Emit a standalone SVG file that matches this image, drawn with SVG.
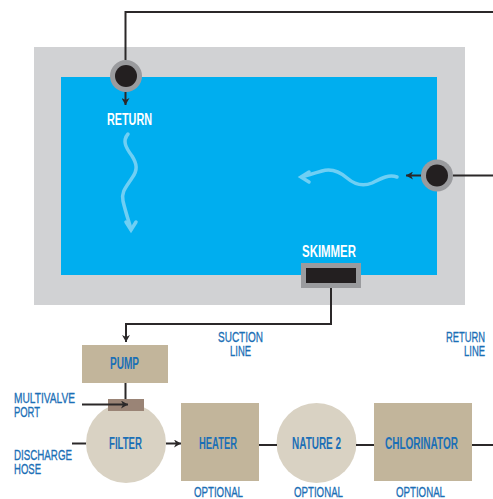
<svg xmlns="http://www.w3.org/2000/svg" width="493" height="499" viewBox="0 0 493 499">
<style>
text{font-family:"Liberation Sans Narrow","Liberation Sans",Arial,sans-serif;font-weight:700;font-size:16px}
.b{fill:#1b6fb6}.l{font-weight:400;font-size:15.500px;stroke:#1b6fb6;stroke-width:.35}.w{fill:#fff}
.c{fill:none;stroke:#2b2829;stroke-width:2}
.s{fill:none;stroke:#6fcff4;stroke-width:3.500;stroke-linecap:round;stroke-linejoin:miter}
.tan{fill:#c2b59b}.lt{fill:#d9d2c3}.ring{fill:#9a9b9e}.dk{fill:#231f20}
</style>
<defs>
<marker id="a" viewBox="0 0 8 8" refX="7" refY="4" markerWidth="8" markerHeight="8" markerUnits="userSpaceOnUse" orient="auto"><path d="M0 0L7 4L0 8L2 4Z" fill="#2b2829"/></marker>
</defs>
<g id="pool"><rect x="34" y="47" width="431" height="258" fill="#d1d2d4"/><rect x="61" y="77" width="376" height="198" fill="#00aeef"/>
<path class="s" d="M128 134C122 141 126 148 132 156C137 164 138 170 132 178C126 187 121 192 123 201C125 210 128 219 131 229"/><path class="s" d="M126 222L131 230L136 222"/>
<path class="s" d="M397 177C388 174 380 179 372 183C362 187 354 184 347 178C340 172 332 168 322 171C315 173 308 175 302 177"/><path class="s" d="M309 172L301 177L309 182"/></g>
<g id="return-top"><circle class="ring" cx="126" cy="76" r="16"/><circle class="dk" cx="126" cy="76" r="11"/><text class="w" x="107" y="125" textLength="45" lengthAdjust="spacingAndGlyphs">RETURN</text></g>
<g id="return-right"><circle class="ring" cx="437" cy="175.500" r="16"/><circle class="dk" cx="437" cy="175.500" r="11"/></g>
<g id="skimmer"><rect class="ring" x="301" y="263" width="60" height="25"/><rect class="dk" x="306" y="268" width="50" height="15"/><text class="w" x="302" y="257" textLength="54" lengthAdjust="spacingAndGlyphs">SKIMMER</text></g>
<g id="pump"><rect class="tan" x="82" y="345" width="86" height="38"/><text class="b" x="110" y="369" textLength="29" lengthAdjust="spacingAndGlyphs">PUMP</text></g>
<g id="filter"><circle class="lt" cx="126" cy="443" r="40"/><rect x="108" y="399" width="36" height="12" fill="#9a8476"/><text class="b" x="109" y="449" textLength="33" lengthAdjust="spacingAndGlyphs">FILTER</text></g>
<g id="heater"><rect class="tan" x="181" y="403" width="78" height="78"/><text class="b" x="199" y="449" textLength="38" lengthAdjust="spacingAndGlyphs">HEATER</text></g>
<g id="nature"><circle class="lt" cx="316.500" cy="443" r="40"/><text class="b" x="292" y="449" textLength="49" lengthAdjust="spacingAndGlyphs">NATURE 2</text></g>
<g id="chlorinator"><rect class="tan" x="374" y="403" width="98" height="78"/><text class="b" x="385" y="449" textLength="73" lengthAdjust="spacingAndGlyphs">CHLORINATOR</text></g>
<g id="connectors">
<path class="c" d="M493 12H125.500V60"/>
<path class="c" d="M125.500 92V105" marker-end="url(#a)"/>
<path class="c" d="M493 175.500H453"/>
<path class="c" d="M421 175.500H406" marker-end="url(#a)"/>
<path class="c" d="M331 288V324H126V342" marker-end="url(#a)"/>
<path class="c" d="M125.500 383V399"/>
<path class="c" d="M82 404.500H128" marker-end="url(#a)"/>
<path class="c" d="M72 443.500H86"/>
<path class="c" d="M166 443.500H181" marker-end="url(#a)"/>
<path class="c" d="M259 445H277"/>
<path class="c" d="M356 445H374"/>
<path class="c" d="M472 445H493"/>
</g>
<g id="labels">
<text class="b l" x="218" y="342" textLength="45" lengthAdjust="spacingAndGlyphs">SUCTION</text>
<text class="b l" x="230" y="356" textLength="21" lengthAdjust="spacingAndGlyphs">LINE</text>
<text class="b l" x="446" y="342" textLength="39" lengthAdjust="spacingAndGlyphs">RETURN</text>
<text class="b l" x="464" y="356" textLength="21" lengthAdjust="spacingAndGlyphs">LINE</text>
<text class="b l" x="14" y="403" textLength="61" lengthAdjust="spacingAndGlyphs">MULTIVALVE</text>
<text class="b l" x="14" y="417" textLength="26" lengthAdjust="spacingAndGlyphs">PORT</text>
<text class="b l" x="14" y="460" textLength="58" lengthAdjust="spacingAndGlyphs">DISCHARGE</text>
<text class="b l" x="14" y="474" textLength="27" lengthAdjust="spacingAndGlyphs">HOSE</text>
<text class="b l" x="194" y="497" textLength="49" lengthAdjust="spacingAndGlyphs">OPTIONAL</text>
<text class="b l" x="294" y="497" textLength="49" lengthAdjust="spacingAndGlyphs">OPTIONAL</text>
<text class="b l" x="396" y="497" textLength="49" lengthAdjust="spacingAndGlyphs">OPTIONAL</text>
</g>
</svg>
